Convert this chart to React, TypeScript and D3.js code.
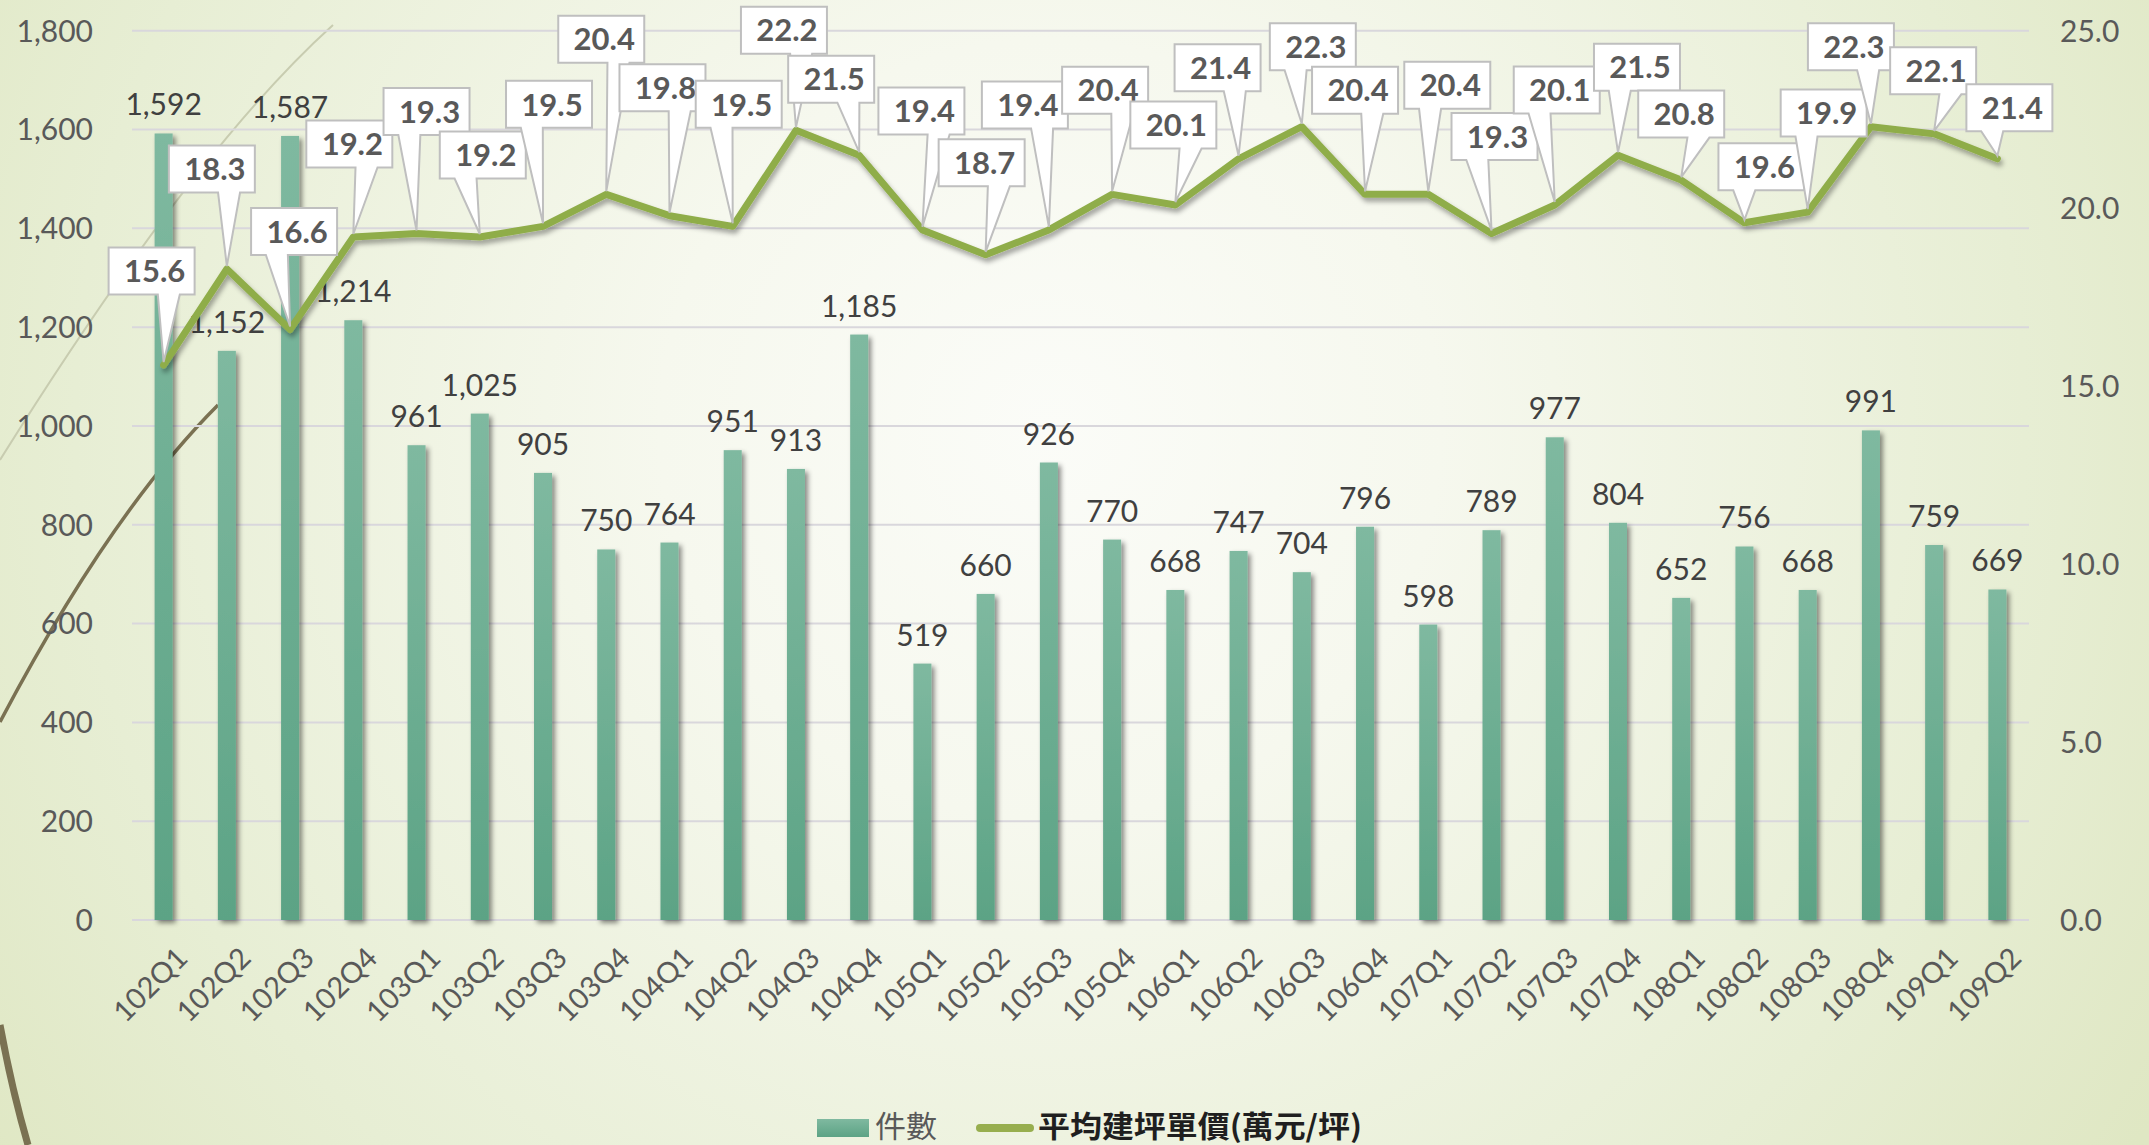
import React from "react";
import * as d3 from "d3";

const categories = [
  "102Q1","102Q2","102Q3","102Q4","103Q1","103Q2","103Q3","103Q4",
  "104Q1","104Q2","104Q3","104Q4","105Q1","105Q2","105Q3","105Q4",
  "106Q1","106Q2","106Q3","106Q4","107Q1","107Q2","107Q3","107Q4",
  "108Q1","108Q2","108Q3","108Q4","109Q1","109Q2",
];
const counts = [
  1592, 1152, 1587, 1214, 961, 1025, 905, 750, 764, 951, 913, 1185, 519, 660, 926,
  770, 668, 747, 704, 796, 598, 789, 977, 804, 652, 756, 668, 991, 759, 669,
];
const prices = [
  15.6, 18.3, 16.6, 19.2, 19.3, 19.2, 19.5, 20.4, 19.8, 19.5, 22.2, 21.5, 19.4, 18.7, 19.4,
  20.4, 20.1, 21.4, 22.3, 20.4, 20.4, 19.3, 20.1, 21.5, 20.8, 19.6, 19.9, 22.3, 22.1, 21.4,
];
const leftTicks = [0, 200, 400, 600, 800, 1000, 1200, 1400, 1600, 1800];
const rightTicks = [0, 5, 10, 15, 20, 25];
const seriesNames = ["件數", "平均建坪單價(萬元/坪)"];

// callout box offsets (box centre relative to the data point), layout only
const calloutDx = [-12,-15,4,-4,10,3,6,-5,-7,6,-12,-28,-1,-4,-24,-7,-2,-21,11,-10,19,3,2,19,0,17,16,-20,-1,12];
const calloutDy = [-94,-100,-98,-93,-122,-82,-122,-155,-128,-122,-100,-76,-119,-92,-125,-104,-80,-91,-80,-104,-109,-97,-115,-88,-66,-56,-99,-80,-63,-51];

const W = 2149;
const H = 1145;
const PL = 132;
const PR = 2029;
const PT = 30.7;
const PB = 920;

export default function App() {
  const x = d3
    .scaleBand<string>()
    .domain(categories)
    .range([PL, PR])
    .paddingInner(0.715)
    .paddingOuter(0.3575);
  const cx = (c: string) => (x(c) as number) + x.bandwidth() / 2;
  const yL = d3.scaleLinear().domain([0, 1800]).range([PB, PT]);
  const yR = d3.scaleLinear().domain([0, 25]).range([PB, PT]);
  const fmt = d3.format(",");
  const line = d3
    .line<number>()
    .x((_, i) => cx(categories[i]))
    .y((d) => yR(d));

  const font = "Lato, 'Noto Sans', sans-serif";
  const boxW = 86;
  const boxH = 47;

  return (
    <svg
      width={W}
      height={H}
      style={{ position: "absolute", left: 0, top: 0, display: "block" }}
    >
      <defs>
        <radialGradient id="bg" gradientUnits="userSpaceOnUse" cx={1050} cy={430} r={1300}>
          <stop offset="0" stopColor="#fbfcf8" />
          <stop offset="0.3" stopColor="#f6f8ee" />
          <stop offset="0.75" stopColor="#e7eed4" />
          <stop offset="1" stopColor="#dfe7c3" />
        </radialGradient>
        <linearGradient id="barG" x1="0" y1="0" x2="0" y2="1">
          <stop offset="0" stopColor="#7fb9a0" />
          <stop offset="1" stopColor="#5ca385" />
        </linearGradient>
        <filter id="barShadow" x="-50%" y="-5%" width="200%" height="110%">
          <feDropShadow dx="3" dy="3" stdDeviation="2.5" floodColor="#000" floodOpacity="0.45" />
        </filter>
        <filter id="lineShadow" x="-5%" y="-20%" width="110%" height="140%">
          <feDropShadow dx="2" dy="4" stdDeviation="2.5" floodColor="#000" floodOpacity="0.35" />
        </filter>
      </defs>

      <rect x={0} y={0} width={W} height={H} fill="url(#bg)" />

      {/* decorative background arcs */}
      <path d="M0,460 Q193,151 333,25" fill="none" stroke="#c8ccb0" strokeWidth={2} />
      <path d="M0,722 Q110,513 218,405" fill="none" stroke="#7a7152" strokeWidth={3.5} />
      <path d="M0,1025 Q12,1090 28,1145" fill="none" stroke="#7a7152" strokeWidth={7} />

      {/* gridlines */}
      {leftTicks.map((t) => (
        <line key={"g" + t} x1={PL} x2={PR} y1={yL(t)} y2={yL(t)} stroke="#d9d7dc" strokeWidth={2} />
      ))}

      {/* left axis labels */}
      {leftTicks.map((t) => (
        <text
          key={"l" + t}
          x={93}
          y={yL(t)}
          dy="0.36em"
          textAnchor="end"
          fontFamily={font}
          fontSize={30}
          fill="#595959"
        >
          {fmt(t)}
        </text>
      ))}

      {/* right axis labels */}
      {rightTicks.map((t) => (
        <text
          key={"r" + t}
          x={2060}
          y={yR(t)}
          dy="0.36em"
          textAnchor="start"
          fontFamily={font}
          fontSize={30}
          fill="#595959"
        >
          {t.toFixed(1)}
        </text>
      ))}

      {/* x labels */}
      {categories.map((c) => (
        <text
          key={"x" + c}
          transform={`translate(${cx(c) + 11},${945}) rotate(-45)`}
          dy="0.72em"
          textAnchor="end"
          fontFamily={font}
          fontSize={29}
          fill="#595959"
        >
          {c}
        </text>
      ))}

      {/* bars */}
      <g filter="url(#barShadow)">
        {counts.map((v, i) => (
          <rect
            key={"b" + i}
            x={x(categories[i]) as number}
            y={yL(v)}
            width={x.bandwidth()}
            height={PB - yL(v)}
            fill="url(#barG)"
          />
        ))}
      </g>

      {/* bar labels */}
      {counts.map((v, i) => (
        <text
          key={"bl" + i}
          x={cx(categories[i])}
          y={yL(v) - 18}
          textAnchor="middle"
          fontFamily={font}
          fontSize={30}
          fill="#404040"
        >
          {fmt(v)}
        </text>
      ))}

      {/* line */}
      <path
        d={line(prices) || ""}
        fill="none"
        stroke="#8fad4a"
        strokeWidth={7}
        strokeLinejoin="round"
        strokeLinecap="round"
        filter="url(#lineShadow)"
      />

      {/* callouts */}
      {prices.map((v, i) => {
        const px = cx(categories[i]);
        const py = yR(v);
        const bx = px + calloutDx[i];
        const by = py + calloutDy[i];
        const left = bx - boxW / 2;
        const right = bx + boxW / 2;
        const top = by - boxH / 2;
        const bottom = by + boxH / 2;
        const frac = px >= bx ? 0.7 : 0.3;
        const bc = left + boxW * frac;
        const b1 = bc - 11;
        const b2 = bc + 11;
        const d = `M${left},${top}H${right}V${bottom}H${b2}L${px},${py - 3}L${b1},${bottom}H${left}Z`;
        return (
          <g key={"c" + i}>
            <path d={d} fill="#ffffff" stroke="#bfbfbf" strokeWidth={2} strokeLinejoin="miter" />
            <text
              x={bx + 3}
              y={by}
              dy="0.36em"
              textAnchor="middle"
              fontFamily={font}
              fontWeight={700}
              fontSize={31}
              fill="#595959"
            >
              {v.toFixed(1)}
            </text>
          </g>
        );
      })}

      {/* legend */}
      <rect x={817} y={1119} width={52} height={18} fill="url(#barG)" />
      <text
        x={875}
        y={1137}
        fontFamily="'Noto Sans CJK TC', sans-serif"
        fontSize={30}
        textLength={62}
        lengthAdjust="spacingAndGlyphs"
        fill="#595959"
      >
        {seriesNames[0]}
      </text>
      <line x1={980} x2={1030} y1={1128} y2={1128} stroke="#97ae4e" strokeWidth={8} strokeLinecap="round" />
      <text
        x={1038}
        y={1137}
        fontFamily="'Noto Sans CJK TC', sans-serif"
        fontWeight={700}
        fontSize={30}
        textLength={324}
        lengthAdjust="spacingAndGlyphs"
        fill="#1f1f1f"
      >
        {seriesNames[1]}
      </text>
    </svg>
  );
}
